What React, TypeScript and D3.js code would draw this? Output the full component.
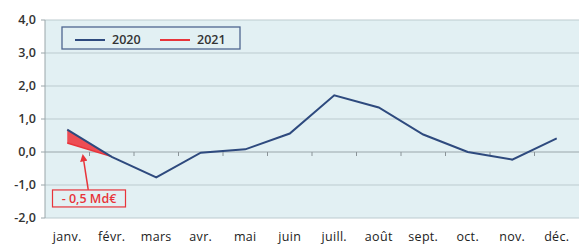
import * as d3 from 'd3';
import React from 'react';

const months = ['janv.', 'févr.', 'mars', 'avr.', 'mai', 'juin', 'juill.', 'août', 'sept.', 'oct.', 'nov.', 'déc.'];
const values2020 = [0.68, -0.15, -0.77, -0.02, 0.08, 0.56, 1.72, 1.35, 0.53, 0.0, -0.23, 0.41];
const values2021 = [0.27, -0.14];
const yTicks = [4, 3, 2, 1, 0, -1, -2];
const annotation = '- 0,5 Md€';

const W = 579;
const H = 245;
const margin = { top: 20, right: 0, bottom: 27, left: 45 };

const App: React.FC = () => {
  const innerW = W - margin.left - margin.right;
  const innerH = H - margin.top - margin.bottom;

  const x = d3.scaleBand<string>().domain(months).range([0, innerW]);
  const y = d3.scaleLinear().domain([-2, 4]).range([innerH, 0]);
  const cx = (m: string) => (x(m) || 0) + x.bandwidth() / 2;

  const line = d3.line<number>()
    .x((_, i) => cx(months[i]))
    .y(d => y(d));

  const gap = d3.area<number>()
    .x((_, i) => cx(months[i]))
    .y0((_, i) => y(values2021[i]))
    .y1(d => y(d));

  const font = '"Open Sans", "Noto Sans", sans-serif';
  const arrowTipX = cx(months[0]) + 16;
  const arrowTipY = y(-0.17);
  const boxY = y(-1.15);

  return (
    <svg width={W} height={H} style={{ position: 'absolute', left: 0, top: 0, background: '#fff' }}>
      <defs>
        <marker id="arr" viewBox="0 0 10 10" refX="5" refY="5" markerWidth="5" markerHeight="5" orient="auto-start-reverse">
          <path d="M0,0 L10,5 L0,10 z" fill="#e8343a" />
        </marker>
      </defs>
      <g transform={`translate(${margin.left},${margin.top})`}>
        <rect x={0} y={0} width={innerW} height={innerH} fill="#e2f0f3" />
        {yTicks.map(t => (
          <line key={t} x1={0} x2={innerW} y1={y(t)} y2={y(t)} stroke={t === 0 ? '#9aa6aa' : '#bccbcf'} strokeWidth={1} />
        ))}
        <line x1={0} x2={0} y1={0} y2={innerH} stroke="#9aa6aa" />
        {yTicks.map(t => (
          <line key={'t' + t} x1={-4} x2={0} y1={y(t)} y2={y(t)} stroke="#9aa6aa" />
        ))}
        {months.slice(1).map(m => (
          <line key={m} x1={x(m) || 0} x2={x(m) || 0} y1={y(0)} y2={y(0) + 4} stroke="#8a9498" />
        ))}
        {yTicks.map(t => (
          <text key={'l' + t} x={-9} y={y(t)} dy="0.35em" textAnchor="end" fontFamily={font} fontSize={12.5} fontWeight={600} fill="#333">
            {d3.format('.1f')(t).replace('.', ',').replace('−', '-')}
          </text>
        ))}
        {months.map(m => (
          <text key={'m' + m} x={cx(m)} y={innerH + 23} textAnchor="middle" fontFamily={font} fontSize={12.5} fontWeight={500} letterSpacing={0.3} fill="#222">
            {m}
          </text>
        ))}
        <path d={gap(values2020.slice(0, 2)) || ''} fill="#ee3b43" opacity={0.9} />
        <path d={line(values2021) || ''} fill="none" stroke="#e8343a" strokeWidth={1.5} />
        <path d={line(values2020) || ''} fill="none" stroke="#2e4a7e" strokeWidth={2} />

        <line x1={arrowTipX + 5} y1={boxY} x2={arrowTipX} y2={arrowTipY} stroke="#e8343a" strokeWidth={1.5} markerEnd="url(#arr)" />
        <rect x={7.5} y={boxY} width={73} height={17} fill="#e2f0f3" stroke="#e8343a" strokeWidth={1.2} />
        <text x={44} y={boxY + 8.5} dy="0.36em" textAnchor="middle" fontFamily={font} fontSize={12.5} fontWeight={600} fill="#e8343a">
          {annotation}
        </text>

        <g transform="translate(17,7)">
          <rect x={0} y={0} width={178} height={22} fill="#e2f0f3" stroke="#4f6690" strokeWidth={1.3} />
          <line x1={13} x2={43} y1={13} y2={13} stroke="#2e4a7e" strokeWidth={2} />
          <text x={50} y={13} dy="0.35em" fontFamily={font} fontSize={12.5} fontWeight={600} fill="#333">2020</text>
          <line x1={98} x2={128} y1={13} y2={13} stroke="#e8343a" strokeWidth={2} />
          <text x={135} y={13} dy="0.35em" fontFamily={font} fontSize={12.5} fontWeight={600} fill="#333">2021</text>
        </g>
      </g>
    </svg>
  );
};

export default App;
